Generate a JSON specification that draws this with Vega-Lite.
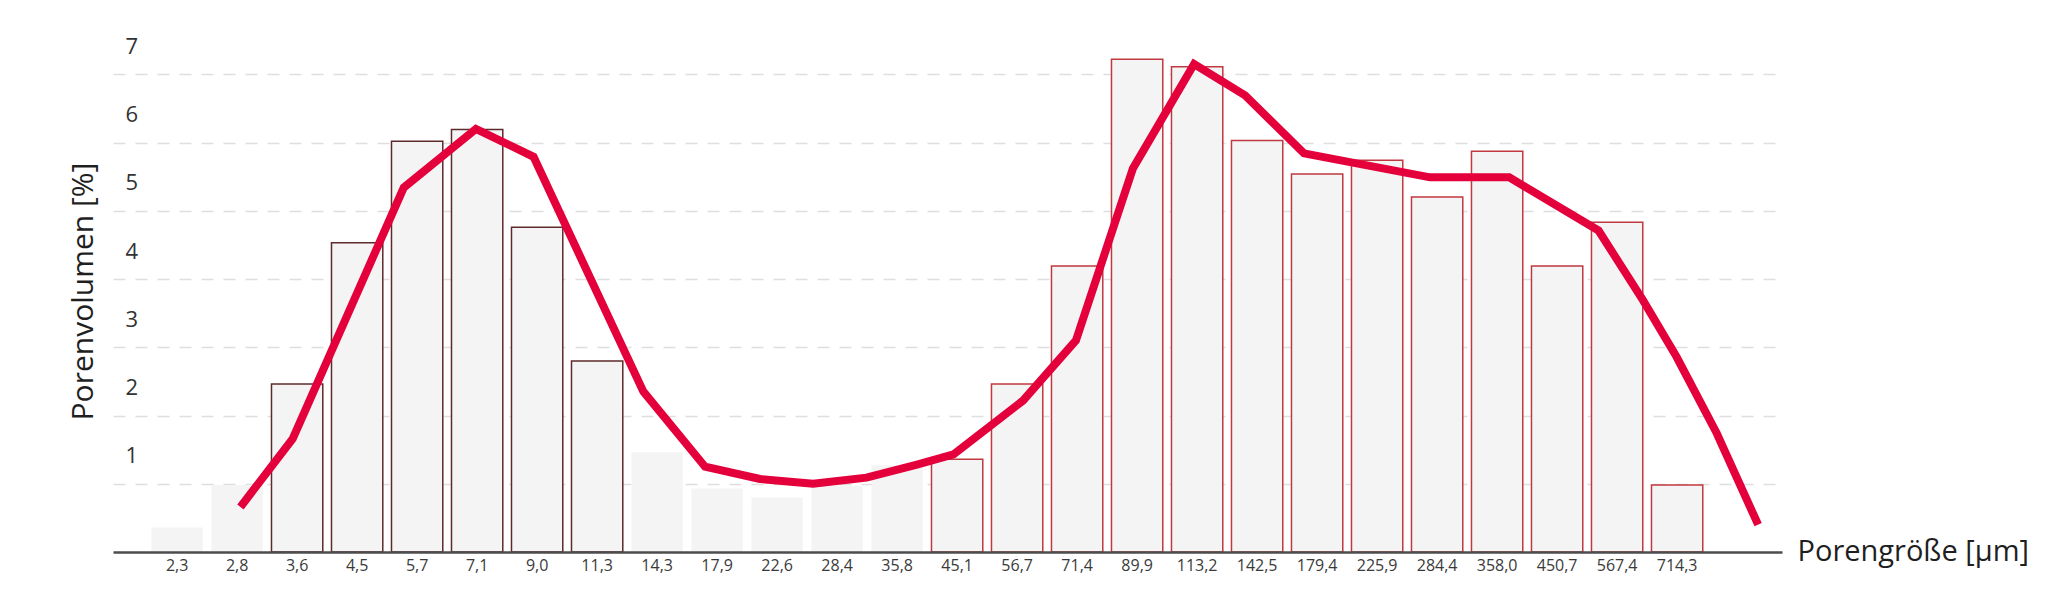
{
  "$schema": "https://vega.github.io/schema/vega-lite/v6.json",
  "width": 1669,
  "height": 546,
  "autosize": "none",
  "padding": {"left": 113, "top": 6, "right": 266, "bottom": 43},
  "background": "white",
  "config": {"view": {"stroke": null}, "font": "Open Sans"},
  "datasets": {
    "verteilung": [
      {"klasse": "2,3", "volumen": 0.36, "gruppe": "ohne"},
      {"klasse": "2,8", "volumen": 0.98, "gruppe": "ohne"},
      {"klasse": "3,6", "volumen": 2.46, "gruppe": "mikro"},
      {"klasse": "4,5", "volumen": 4.53, "gruppe": "mikro"},
      {"klasse": "5,7", "volumen": 6.02, "gruppe": "mikro"},
      {"klasse": "7,1", "volumen": 6.19, "gruppe": "mikro"},
      {"klasse": "9,0", "volumen": 4.76, "gruppe": "mikro"},
      {"klasse": "11,3", "volumen": 2.8, "gruppe": "mikro"},
      {"klasse": "14,3", "volumen": 1.46, "gruppe": "ohne"},
      {"klasse": "17,9", "volumen": 0.93, "gruppe": "ohne"},
      {"klasse": "22,6", "volumen": 0.8, "gruppe": "ohne"},
      {"klasse": "28,4", "volumen": 0.97, "gruppe": "ohne"},
      {"klasse": "35,8", "volumen": 1.27, "gruppe": "ohne"},
      {"klasse": "45,1", "volumen": 1.36, "gruppe": "makro"},
      {"klasse": "56,7", "volumen": 2.46, "gruppe": "makro"},
      {"klasse": "71,4", "volumen": 4.19, "gruppe": "makro"},
      {"klasse": "89,9", "volumen": 7.22, "gruppe": "makro"},
      {"klasse": "113,2", "volumen": 7.11, "gruppe": "makro"},
      {"klasse": "142,5", "volumen": 6.03, "gruppe": "makro"},
      {"klasse": "179,4", "volumen": 5.54, "gruppe": "makro"},
      {"klasse": "225,9", "volumen": 5.74, "gruppe": "makro"},
      {"klasse": "284,4", "volumen": 5.2, "gruppe": "makro"},
      {"klasse": "358,0", "volumen": 5.87, "gruppe": "makro"},
      {"klasse": "450,7", "volumen": 4.19, "gruppe": "makro"},
      {"klasse": "567,4", "volumen": 4.83, "gruppe": "makro"},
      {"klasse": "714,3", "volumen": 0.98, "gruppe": "makro"}
    ],
    "kurve": [
      {"groesse": 2.88, "volumen": 0.66},
      {"groesse": 3.52, "volumen": 1.66},
      {"groesse": 5.39, "volumen": 5.34},
      {"groesse": 7.11, "volumen": 6.2},
      {"groesse": 8.87, "volumen": 5.79},
      {"groesse": 13.52, "volumen": 2.35},
      {"groesse": 17.13, "volumen": 1.25},
      {"groesse": 21.15, "volumen": 1.07},
      {"groesse": 25.93, "volumen": 1.0},
      {"groesse": 31.83, "volumen": 1.09},
      {"groesse": 38.63, "volumen": 1.28},
      {"groesse": 44.45, "volumen": 1.43},
      {"groesse": 58.06, "volumen": 2.22},
      {"groesse": 71.1, "volumen": 3.1},
      {"groesse": 88.48, "volumen": 5.62},
      {"groesse": 111.9, "volumen": 7.15},
      {"groesse": 136.1, "volumen": 6.69},
      {"groesse": 170.6, "volumen": 5.84},
      {"groesse": 276.7, "volumen": 5.49},
      {"groesse": 375.0, "volumen": 5.49},
      {"groesse": 528.3, "volumen": 4.71},
      {"groesse": 626.4, "volumen": 3.69},
      {"groesse": 712.6, "volumen": 2.86},
      {"groesse": 831.5, "volumen": 1.74},
      {"groesse": 974.7, "volumen": 0.4}
    ]
  },
  "layer": [
    {
      "data": {"name": "verteilung"},
      "mark": {"type": "bar", "fill": "#f4f4f4", "strokeWidth": 1.5},
      "encoding": {
        "x": {
          "field": "klasse",
          "type": "ordinal",
          "sort": null,
          "scale": {"paddingInner": 0.145, "paddingOuter": 0.981, "align": 0.327},
          "axis": {
            "title": "Porengröße [µm]",
            "labelAngle": 0,
            "ticks": false,
            "tickSize": 0,
            "grid": false,
            "zindex": 1,
            "domainColor": "#4d4d4d",
            "domainWidth": 2.5,
            "labelFontSize": 16,
            "labelColor": "#3a3a3a",
            "labelPadding": 5,
            "titleFontSize": 29,
            "titleFontWeight": "normal",
            "titleColor": "#1f1f1f",
            "titleX": 1684,
            "titleY": -1,
            "titleAlign": "left",
            "titleBaseline": "middle"
          }
        },
        "y": {
          "field": "volumen",
          "type": "quantitative",
          "scale": {"domain": [0, 8], "nice": false},
          "axis": {
            "title": "Porenvolumen [%]",
            "values": [1, 2, 3, 4, 5, 6, 7],
            "format": "d",
            "domain": false,
            "ticks": false,
            "tickSize": 0,
            "labelAlign": "left",
            "labelPadding": -12,
            "labelOffset": -28,
            "labelFontSize": 22,
            "labelColor": "#333333",
            "grid": true,
            "gridDash": [12, 10],
            "gridColor": "#dedede",
            "gridWidth": 1.5,
            "titleFontSize": 30,
            "titleFontWeight": "normal",
            "titleColor": "#1f1f1f",
            "titleX": -30,
            "titleY": 285,
            "titleAngle": 270,
            "titleAlign": "center",
            "titleBaseline": "middle"
          }
        },
        "stroke": {
          "field": "gruppe",
          "type": "nominal",
          "scale": {"domain": ["ohne", "mikro", "makro"], "range": ["transparent", "#5e2a2a", "#c0393f"]},
          "legend": null
        }
      }
    },
    {
      "data": {"name": "kurve"},
      "mark": {"type": "line", "color": "#e4003b", "strokeWidth": 8},
      "encoding": {
        "x": {
          "field": "groesse",
          "type": "quantitative",
          "scale": {"type": "log", "domain": [1.766, 1068.2], "nice": false},
          "axis": null
        },
        "y": {"field": "volumen", "type": "quantitative"}
      }
    }
  ],
  "resolve": {"scale": {"x": "independent"}}
}
